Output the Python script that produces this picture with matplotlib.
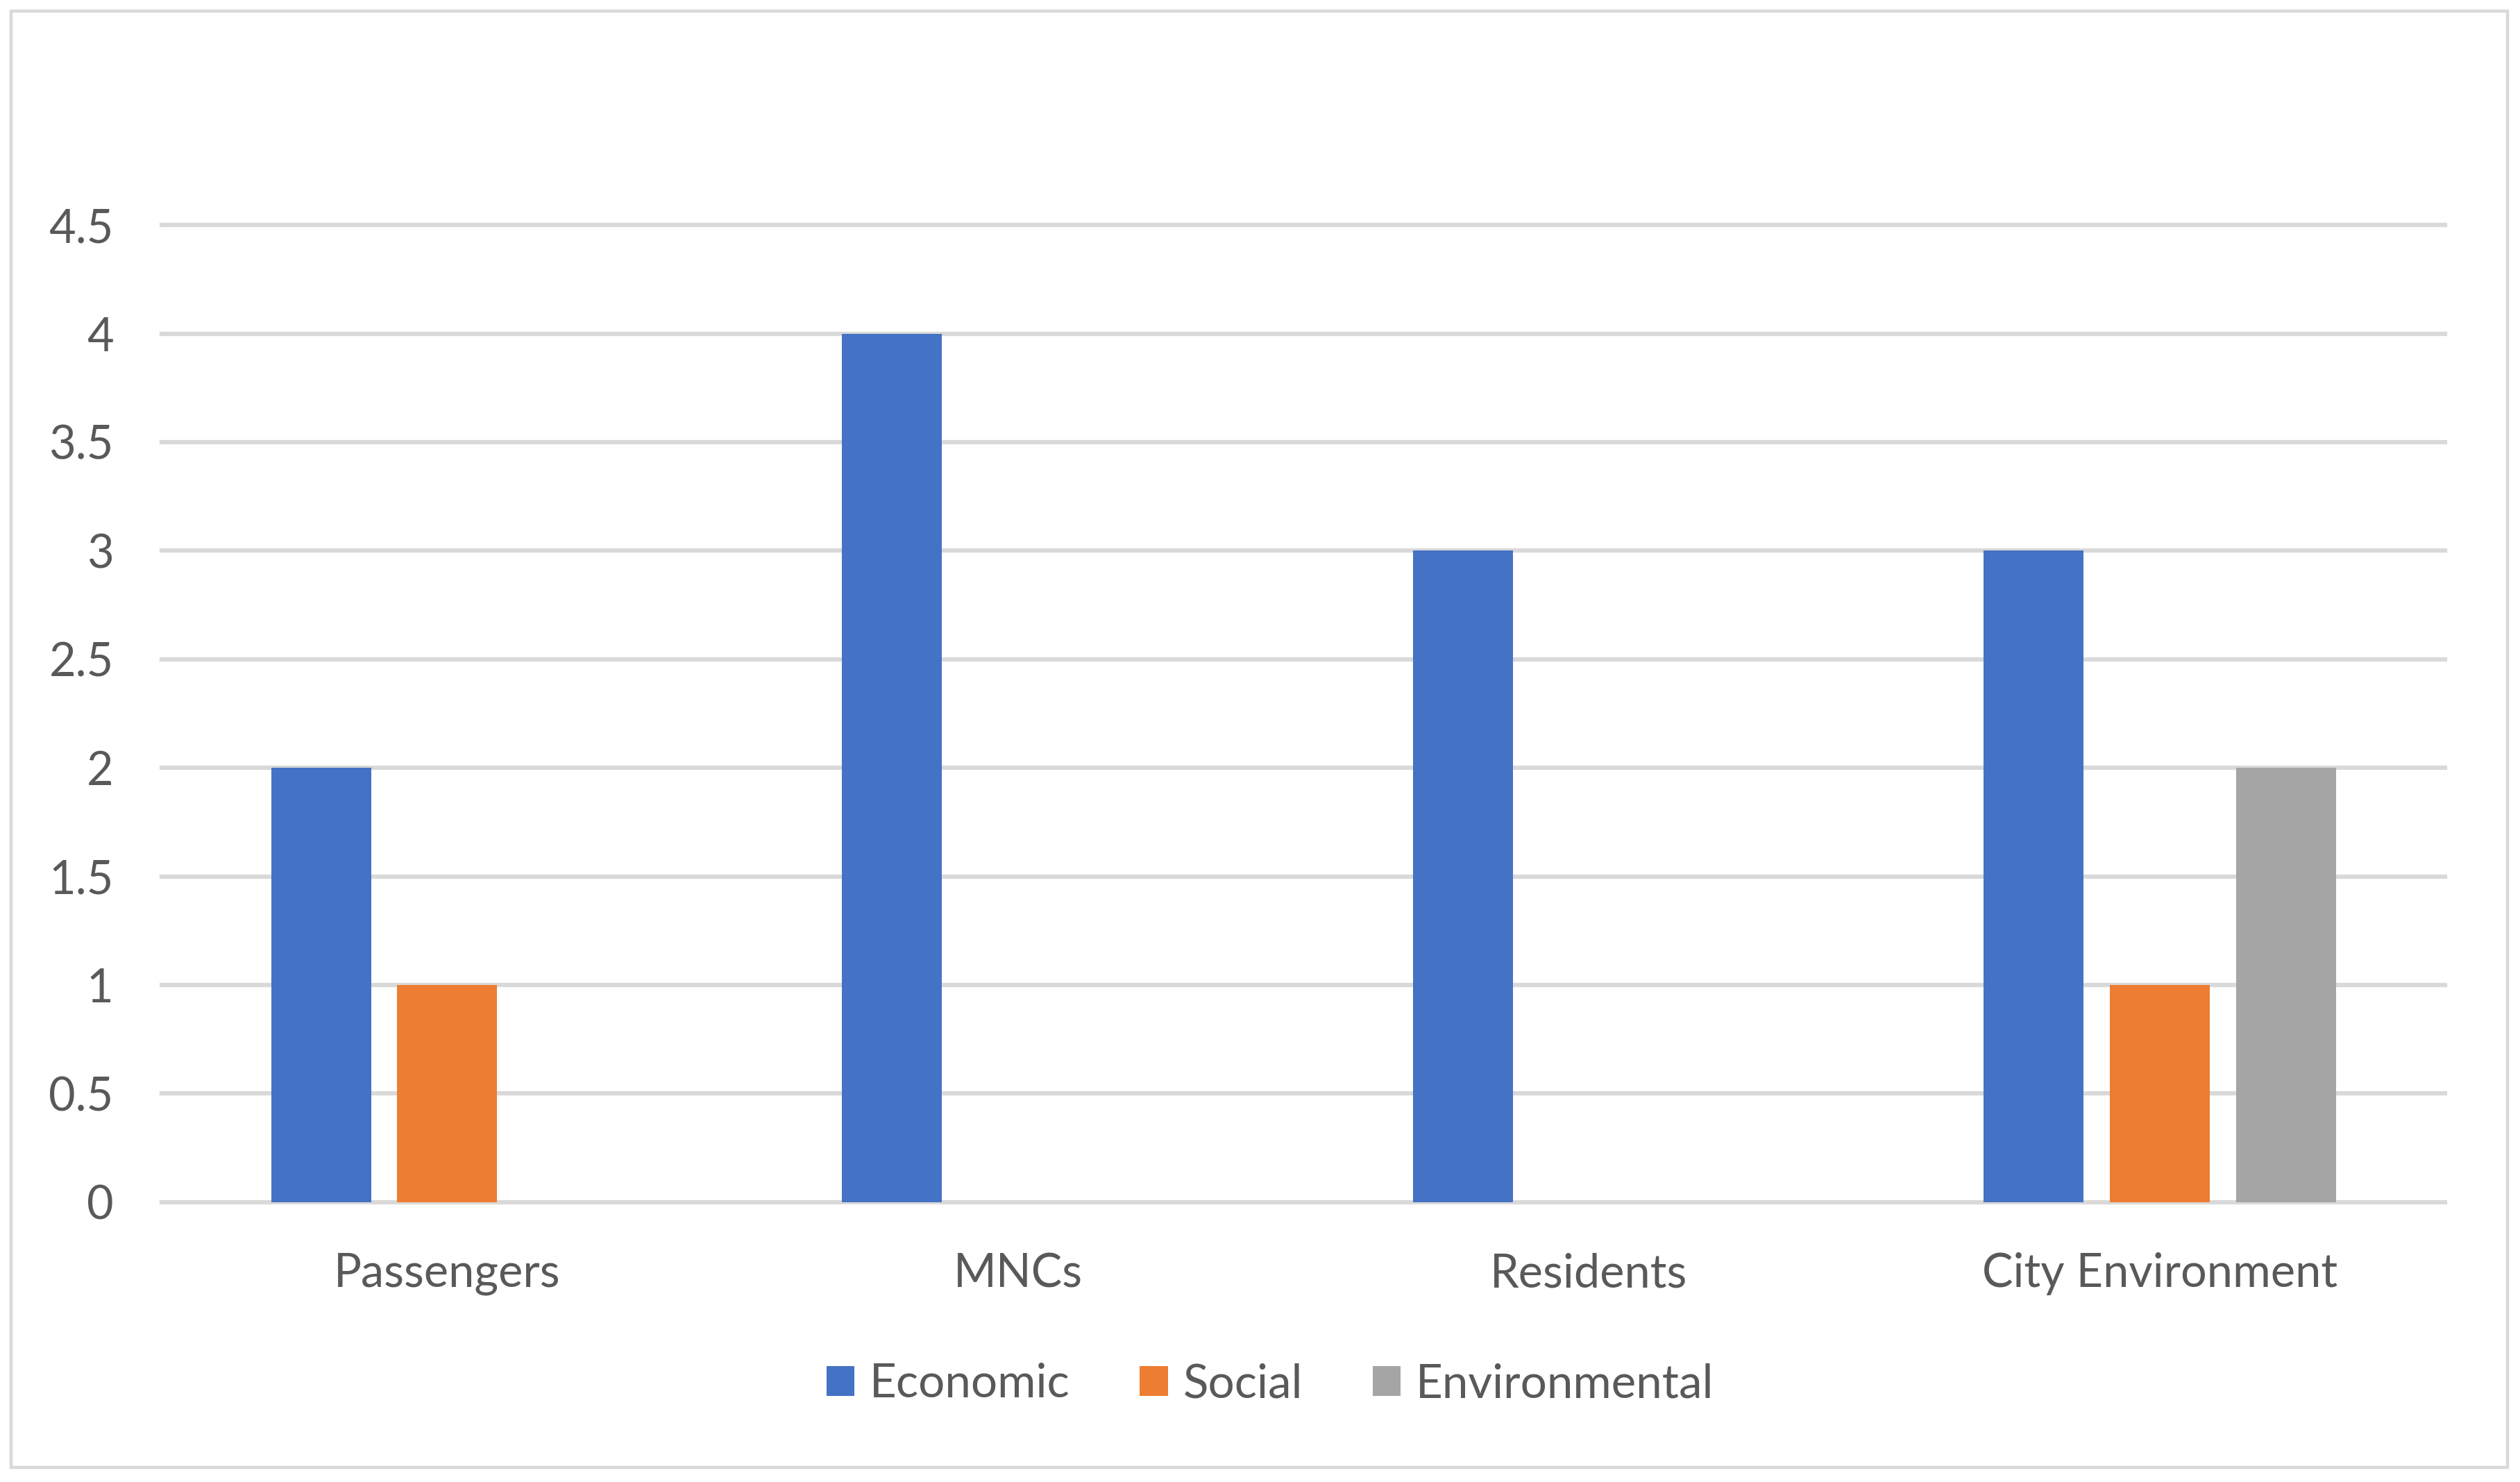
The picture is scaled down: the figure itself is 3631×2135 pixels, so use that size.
import matplotlib.pyplot as plt
import numpy as np
from matplotlib.patches import Rectangle

# data
categories = ['Passengers', 'MNCs', 'Residents', 'City Environment']
series = ['Economic', 'Social', 'Environmental']
economic = [2, 4, 3, 3]
social = [1, 0, 0, 1]
environmental = [0, 0, 0, 2]
y_ticks = [0, 0.5, 1, 1.5, 2, 2.5, 3, 3.5, 4, 4.5]
y_labels = ['0', '0.5', '1', '1.5', '2', '2.5', '3', '3.5', '4', '4.5']

colors = ['#4472C4', '#ED7D31', '#A5A5A5']
text_color = '#595959'
grid_color = '#D9D9D9'

plt.rcParams['font.family'] = ['Lato', 'DejaVu Sans']

fig = plt.figure(figsize=(36.31, 21.35), dpi=100)
ax = fig.add_axes([0.0642, 0.1888, 0.9061, 0.6594])

x = np.arange(len(categories))
width = 0.175
step = 0.221
for i, (name, vals) in enumerate(zip(series, [economic, social, environmental])):
    ax.bar(x + (i - 1) * step, vals, width, color=colors[i], label=name, zorder=3)

ax.set_xlim(-0.5, len(categories) - 0.5)
ax.set_ylim(0, 4.5)
ax.set_yticks(y_ticks)
ax.set_yticklabels(y_labels)
ax.set_xticks(x)
ax.set_xticklabels(categories)

ax.tick_params(axis='both', length=0, labelsize=48, labelcolor=text_color)
ax.tick_params(axis='y', pad=50)
ax.tick_params(axis='x', pad=52)

ax.set_axisbelow(True)
ax.yaxis.grid(True, color=grid_color, linewidth=4.5)
for gl in ax.get_ygridlines():
    gl.set_clip_on(False)
for s in ax.spines.values():
    s.set_visible(False)

leg = fig.legend(loc='center', bbox_to_anchor=(0.504, 0.066), ncol=3, frameon=False,
                 fontsize=48.5, handlelength=0.6, handleheight=0.6,
                 handletextpad=0.32, columnspacing=1.5)
for t in leg.get_texts():
    t.set_color(text_color)

# chart border
fig.patches.append(Rectangle((16 / 3631, 21 / 2135), 3597 / 3631, 2098 / 2135,
                             transform=fig.transFigure, fill=False,
                             edgecolor=grid_color, linewidth=3.2))

fig.savefig('out.png', dpi=100, facecolor='white')
